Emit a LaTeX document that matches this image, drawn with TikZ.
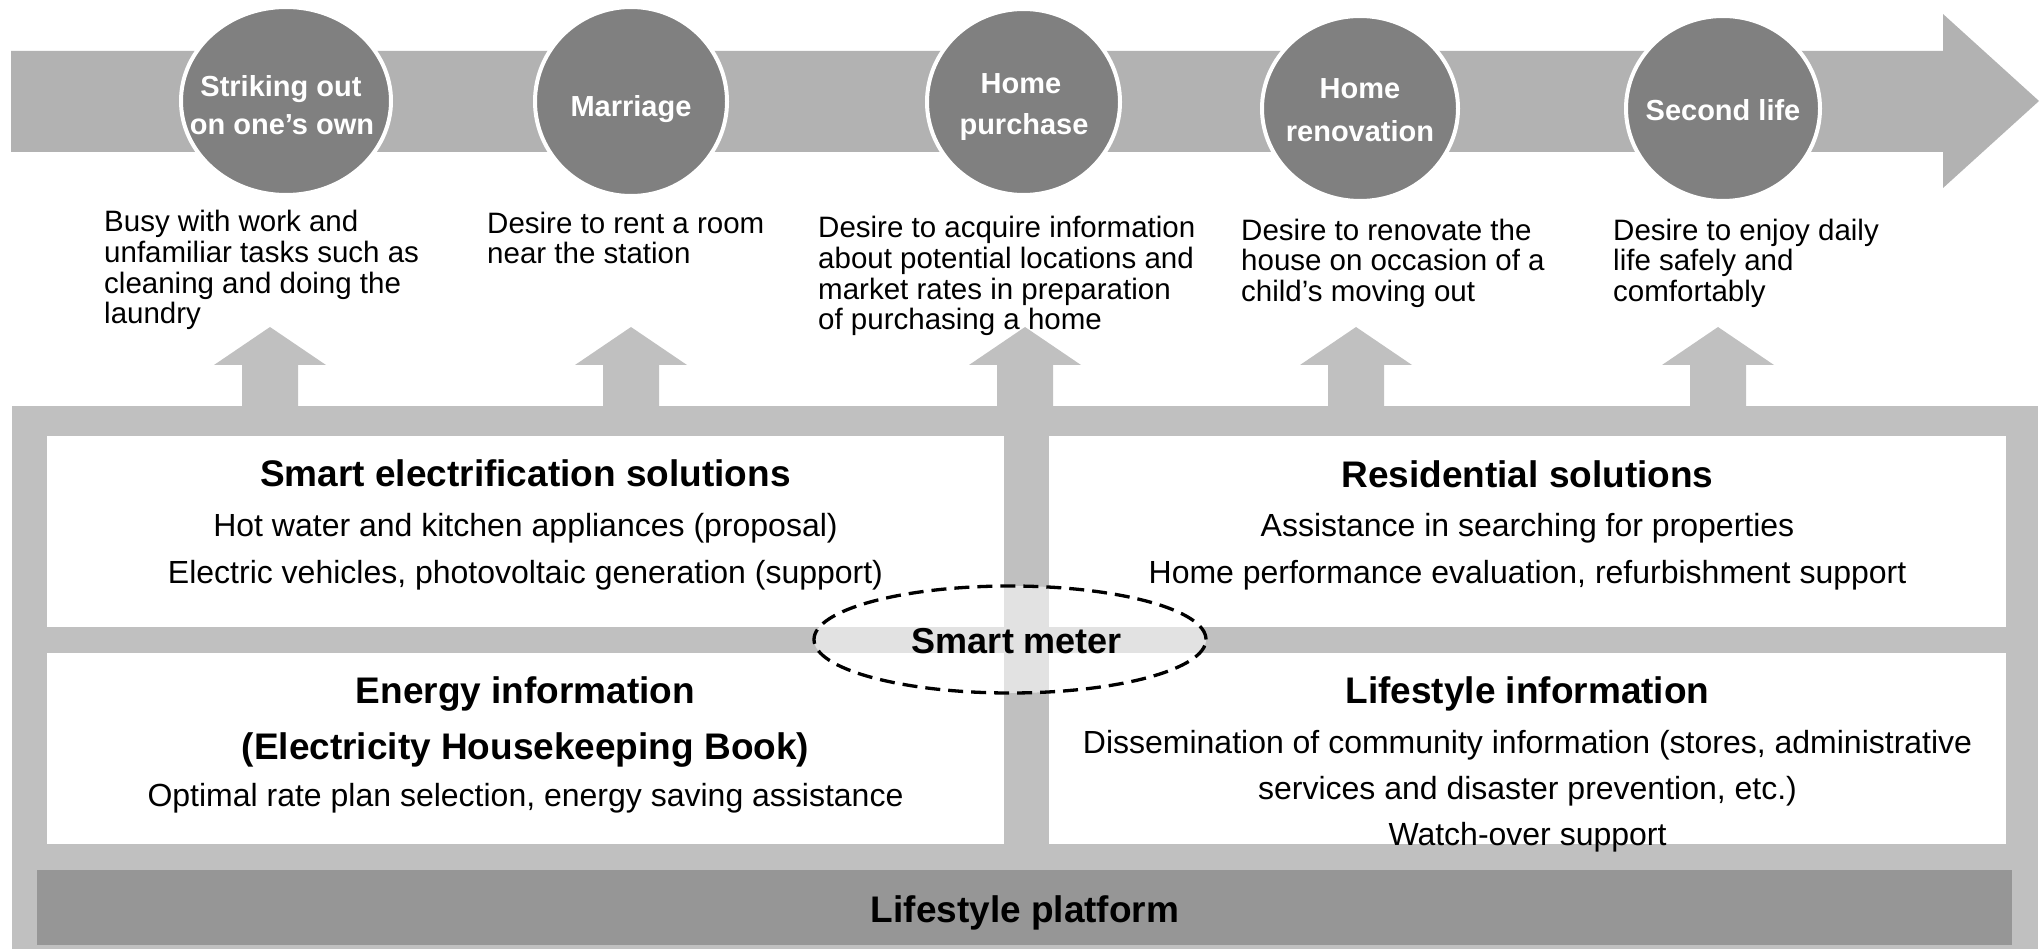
\documentclass[tikz,border=0pt]{standalone}
\usepackage{fontspec}
\setmainfont{Liberation Sans}
\usetikzlibrary{shapes.geometric}
\definecolor{bandgray}{HTML}{B2B2B2}
\definecolor{circlegray}{HTML}{808080}
\definecolor{boxgray}{HTML}{C0C0C0}
\definecolor{bargray}{HTML}{969696}
\begin{document}
\begin{tikzpicture}[x=1pt,y=-1pt,
  lifecircle/.style={ellipse, draw=white, line width=4pt, fill=circlegray, inner sep=0pt},
  circletext/.style={anchor=base, text=white, inner sep=0pt, font=\fontsize{29}{36}\selectfont\bfseries},
  desiretext/.style={anchor=north west, align=left, inner sep=0pt, font=\fontsize{29.5}{30.7}\selectfont},
  upblock/.style={fill=boxgray},
  panel/.style={fill=white},
  titletext/.style={anchor=base, inner sep=0pt, font=\fontsize{37}{44}\selectfont\bfseries},
  bodytext/.style={anchor=base, inner sep=0pt, font=\fontsize{32}{38}\selectfont},
  meterring/.style={ellipse, draw=black, line width=3.3pt, dash pattern=on 15pt off 8pt, fill=white, fill opacity=0.55, inner sep=0pt},
]
\useasboundingbox (0,0) rectangle (2040,949);

% timeline arrow
\fill[bandgray] (11,51) -- (1943,51) -- (1943,14) -- (2039,101) -- (1943,188) -- (1943,152) -- (11,152) -- cycle;

% life stage circles
\node[lifecircle, minimum width=210pt, minimum height=188pt] (c1) at (286,101) {};
\node[lifecircle, minimum width=192pt, minimum height=189pt] (c2) at (631,101.5) {};
\node[lifecircle, minimum width=193pt, minimum height=186pt] (c3) at (1023.5,102) {};
\node[lifecircle, minimum width=196pt, minimum height=185pt] (c4) at (1360,108.5) {};
\node[lifecircle, minimum width=194pt, minimum height=185pt] (c5) at (1723,108.5) {};

\node[circletext] (c1a) at (281,97) {Striking out};
\node[circletext] (c1b) at (282,135) {on one’s own};
\node[circletext] (c2a) at (631,117) {Marriage};
\node[circletext] (c3a) at (1021,94) {Home};
\node[circletext] (c3b) at (1024,135) {purchase};
\node[circletext] (c4a) at (1360,99) {Home};
\node[circletext] (c4b) at (1360,142) {renovation};
\node[circletext] (c5a) at (1723,121) {Second life};

% up arrows
\foreach \cx in {270,631,1025,1356,1718}{
  \fill[upblock] (\cx-28,407) -- (\cx-28,365) -- (\cx-56,365) -- (\cx,327) -- (\cx+56,365) -- (\cx+28,365) -- (\cx+28,407) -- cycle;
}

% desire texts
\node[desiretext] (t1) at (104,210) {\strut Busy with work and\\unfamiliar tasks such as\\cleaning and doing the\\laundry};
\node[desiretext] (t2) at (487,211.5) {\strut Desire to rent a room\\near the station};
\node[desiretext] (t3) at (818,216.2) {\strut Desire to acquire information\\about potential locations and\\market rates in preparation\\of purchasing a home};
\node[desiretext] (t4) at (1241,218.5) {\strut Desire to renovate the\\house on occasion of a\\child’s moving out};
\node[desiretext] (t5) at (1613,218.5) {\strut Desire to enjoy daily\\life safely and\\comfortably};

% platform base
\fill[boxgray] (12,406) rectangle (2038,949);
\fill[panel] (47,436) rectangle (1004,627);
\fill[panel] (1049,436) rectangle (2006,627);
\fill[panel] (47,653) rectangle (1004,844);
\fill[panel] (1049,653) rectangle (2006,844);

% smart meter ring
\node[meterring, minimum width=392pt, minimum height=107pt] (sm) at (1010,639.5) {};

% panel texts
\node[titletext] (p1a) at (525.5,486) {Smart electrification solutions};
\node[bodytext] (p1b) at (525.5,536) {Hot water and kitchen appliances (proposal)};
\node[bodytext] (p1c) at (525.5,583) {Electric vehicles, photovoltaic generation (support)};
\node[titletext] (p2a) at (1527.5,487) {Residential solutions};
\node[bodytext] (p2b) at (1527.5,536) {Assistance in searching for properties};
\node[bodytext] (p2c) at (1527.5,583) {Home performance evaluation, refurbishment support};
\node[titletext] (p3a) at (525.5,703) {Energy information};
\node[titletext] (p3b) at (525.5,759) {(Electricity Housekeeping Book)};
\node[bodytext] (p3c) at (525.5,806) {Optimal rate plan selection, energy saving assistance};
\node[titletext] (p4a) at (1527.5,703) {Lifestyle information};
\node[bodytext] (p4b) at (1527.5,753) {Dissemination of community information (stores, administrative};
\node[bodytext] (p4c) at (1527.5,799) {services and disaster prevention, etc.)};
\node[bodytext] (p4d) at (1527.5,845) {Watch-over support};

\node[titletext, font=\fontsize{36}{43}\selectfont\bfseries] (smt) at (1017,653) {Smart meter};

% lifestyle platform bar
\fill[bargray] (37,870) rectangle (2012,945);
\node[titletext] (lp) at (1025,922) {Lifestyle platform};
\end{tikzpicture}
\end{document}
